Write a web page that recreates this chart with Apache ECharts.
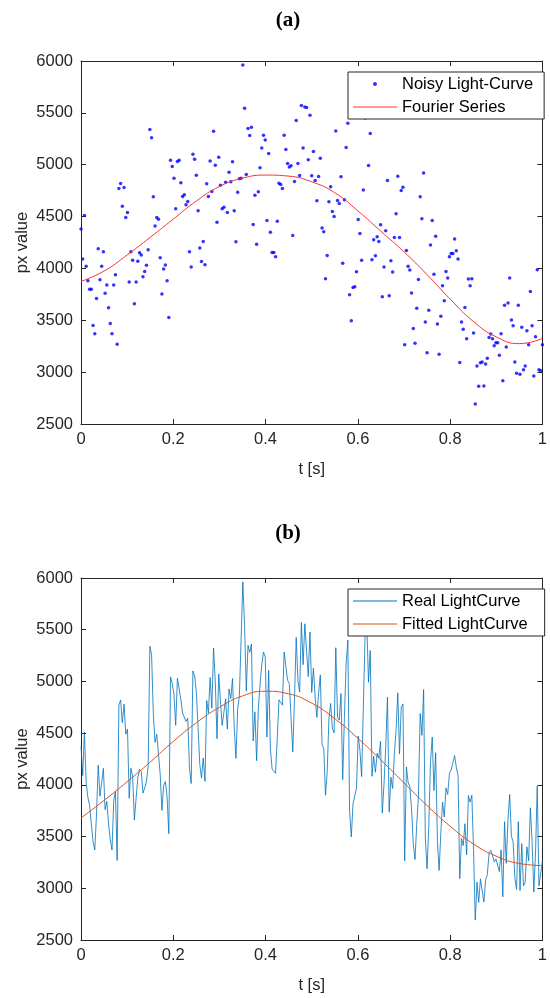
<!DOCTYPE html>
<html>
<head>
<meta charset="utf-8">
<script src="https://cdn.jsdelivr.net/npm/echarts@6/dist/echarts.min.js"></script>
<style>
  html, body { margin: 0; padding: 0; background: #fff; }
  #main { width: 550px; height: 998px; }
</style>
</head>
<body>
<div id="main"></div>
<script>
// 光变曲线数据
var noisy = [
  4380, 4090, 4510, 4020, 3880, 3800, 3800, 3450, 3370, 3710, 4190, 3890, 4020, 4160, 3760,
  3840, 3620, 3470, 3370, 3840, 3940, 3270, 4770, 4820, 4600, 4780, 4490, 4540, 3870, 4160,
  4080, 3660, 3870, 4070, 4150, 4130, 3920, 3970, 4030, 4180, 5340, 5260, 4690, 4410, 4490,
  4475, 4103, 3753, 3994, 4032, 3881, 3528, 5044, 4983, 4870, 4575, 5031, 5044, 4825, 4694,
  4710, 4613, 4645, 4161, 4013, 5101, 5053, 4899, 4556, 4196, 4067, 4260, 4035, 4816, 4694,
  5037, 4742, 5323, 4995, 4446, 5072, 4803, 4575, 4591, 4832, 4539, 4928, 4835, 5028, 4556, 4257,
  4735, 4864, 4870, 5962, 5545, 4906, 5349, 5281, 5361, 4424, 4706, 4234, 4739, 4970, 5162,
  5284, 5239, 4462, 5108, 4350, 4154, 4154, 4112, 4456, 4822, 4809, 4771, 5284, 5146, 5011,
  4979, 4989, 4318, 4838, 5426, 5011, 4896, 5570, 5162, 5557, 5551, 5047, 5477, 4893, 5127,
  4848, 4652, 4886, 5063, 4389, 4353, 3900, 4125, 4642, 4787, 4549, 4501, 5326, 4655, 4626,
  4883, 4051, 4661, 5166, 5400, 3746, 3496, 3817, 3823, 3968, 4472, 4337, 4080, 4755, 5450,
  5550, 4992, 5300, 4083, 4276, 4122, 4305, 4260, 4421, 3727, 4013, 4363, 4848, 3737,
  4074, 3965, 4299, 4527, 4889, 4299, 4751, 4783, 3265, 4173, 4022, 3984, 3762, 3422, 3278,
  3615, 3894, 4690, 4478, 4921, 3483, 3188, 3596, 4225, 4462, 3945, 4311, 3464, 3172, 3538,
  3833, 3689, 3971, 3907, 4112, 4144, 4144, 4283, 4170, 4090, 3094, 3483, 3413, 3624, 3323,
  3897, 3833, 3900, 3377, 2693, 3059, 2863, 3091, 3098, 2867, 3078, 3133, 3335, 3367, 3322,
  3255, 3284, 3284, 3162, 3371, 2918, 3644, 3242, 3666, 3907, 3502, 3448, 3098, 2989, 3644,
  2979, 3432, 3024, 3059, 3400, 3265, 3778, 3448, 2963, 3342, 3987, 3024, 3014, 3265
];
// 傅里叶拟合 (a), t = 0, 0.05, ..., 1
var fourierA = [3875, 3975, 4130, 4300, 4475, 4650, 4790, 4870, 4900, 4890, 4835,
                4730, 4555, 4358, 4160, 3940, 3705, 3490, 3340, 3275, 3325];
// 拟合曲线 (b), t = 0, 0.05, ..., 1
var fittedB = [3680, 3850, 4030, 4220, 4420, 4600, 4750, 4860, 4905, 4880, 4790,
               4640, 4450, 4240, 4020, 3800, 3600, 3430, 3310, 3240, 3220];
var yTicks = [2500, 3000, 3500, 4000, 4500, 5000, 5500, 6000];
var xTicks = [0, 0.2, 0.4, 0.6, 0.8, 1];

function toPairs(arr) {
  return arr.map(function (v, i) { return [i / (arr.length - 1), v]; });
}

var chart = echarts.init(document.getElementById('main'), null, { renderer: 'canvas' });

var axisColor = '#262626';
var font = '"Liberation Sans", Arial, Helvetica, sans-serif';
var serif = '"Liberation Serif", "Times New Roman", serif';
// 细线图例图标
var lineIcon = 'path://M0,0H44V1H0Z';

function xAx(grid, pos, label) {
  return {
    type: 'value', gridIndex: grid, position: pos,
    min: xTicks[0], max: xTicks[xTicks.length - 1], interval: 0.2,
    name: label ? 't [s]' : '', nameLocation: 'middle', nameGap: 37,
    nameMoveOverlap: false,
    nameTextStyle: { color: axisColor, fontSize: 16.5, fontFamily: font },
    axisLine: { show: true, onZero: false, lineStyle: { color: axisColor, width: 1 } },
    axisTick: { show: true, inside: true, length: 5, lineStyle: { color: axisColor } },
    axisLabel: { show: label, color: axisColor, fontSize: 16.5, fontFamily: font, margin: 7,
                 formatter: function (v) { return String(v); } },
    splitLine: { show: false }
  };
}
function yAx(grid, pos, label) {
  return {
    type: 'value', gridIndex: grid, position: pos,
    min: yTicks[0], max: yTicks[yTicks.length - 1], interval: 500,
    name: label ? 'px value' : '', nameLocation: 'middle', nameGap: 50,
    nameMoveOverlap: false,
    nameTextStyle: { color: axisColor, fontSize: 16.5, fontFamily: font },
    axisLine: { show: true, onZero: false, lineStyle: { color: axisColor, width: 1 } },
    axisTick: { show: true, inside: true, length: 5, lineStyle: { color: axisColor } },
    axisLabel: { show: label, color: axisColor, fontSize: 16.5, fontFamily: font, margin: 8,
                 formatter: function (v) { return String(v); } },
    splitLine: { show: false }
  };
}

var legendBase = {
  orient: 'vertical',
  selectedMode: false,
  backgroundColor: '#fff',
  borderColor: axisColor,
  borderWidth: 1,
  borderRadius: 0,
  itemGap: 5,
  itemWidth: 44,
  itemHeight: 4,
  textStyle: { color: '#000', fontSize: 16.5, fontFamily: font, lineHeight: 18 }
};

var option = {
  animation: false,
  backgroundColor: '#fff',
  title: [
    { text: '(a)', left: 283, top: 5, textAlign: 'center',
      textStyle: { fontFamily: serif, fontWeight: 'bold', fontSize: 21, color: '#000' } },
    { text: '(b)', left: 283, top: 518, textAlign: 'center',
      textStyle: { fontFamily: serif, fontWeight: 'bold', fontSize: 21, color: '#000' } }
  ],
  grid: [
    { left: 81, top: 61, width: 465, height: 363 },
    { left: 81, top: 578, width: 465, height: 362 }
  ],
  xAxis: [xAx(0, 'bottom', true), xAx(0, 'top', false), xAx(1, 'bottom', true), xAx(1, 'top', false)],
  yAxis: [yAx(0, 'left', true), yAx(0, 'right', false), yAx(1, 'left', true), yAx(1, 'right', false)],
  legend: [
    Object.assign({}, legendBase, {
      left: 348, top: 72, padding: [3, 11, 3, 5],
      data: [{ name: 'Noisy Light-Curve', icon: 'circle' },
             { name: 'Fourier Series', icon: lineIcon }]
    }),
    Object.assign({}, legendBase, {
      left: 348, top: 589, padding: [3, 17, 3, 5],
      data: [{ name: 'Real LightCurve', icon: lineIcon },
             { name: 'Fitted LightCurve', icon: lineIcon }]
    })
  ],
  series: [
    {
      name: 'Noisy Light-Curve', type: 'scatter', xAxisIndex: 0, yAxisIndex: 0,
      symbol: 'circle', symbolSize: 3.5,
      itemStyle: { color: '#0000ff' },
      data: toPairs(noisy)
    },
    {
      name: 'Fourier Series', type: 'line', xAxisIndex: 0, yAxisIndex: 0,
      smooth: true, symbol: 'none',
      lineStyle: { color: '#ff3030', width: 1 }, itemStyle: { color: '#ff3030' },
      data: toPairs(fourierA)
    },
    {
      name: 'Real LightCurve', type: 'line', xAxisIndex: 2, yAxisIndex: 2,
      symbol: 'none',
      lineStyle: { color: '#0072bd', width: 0.8 }, itemStyle: { color: '#0072bd' },
      data: toPairs(noisy)
    },
    {
      name: 'Fitted LightCurve', type: 'line', xAxisIndex: 2, yAxisIndex: 2,
      smooth: true, symbol: 'none',
      lineStyle: { color: '#d95319', width: 1 }, itemStyle: { color: '#d95319' },
      data: toPairs(fittedB)
    }
  ]
};
chart.setOption(option);
</script>
</body>
</html>
